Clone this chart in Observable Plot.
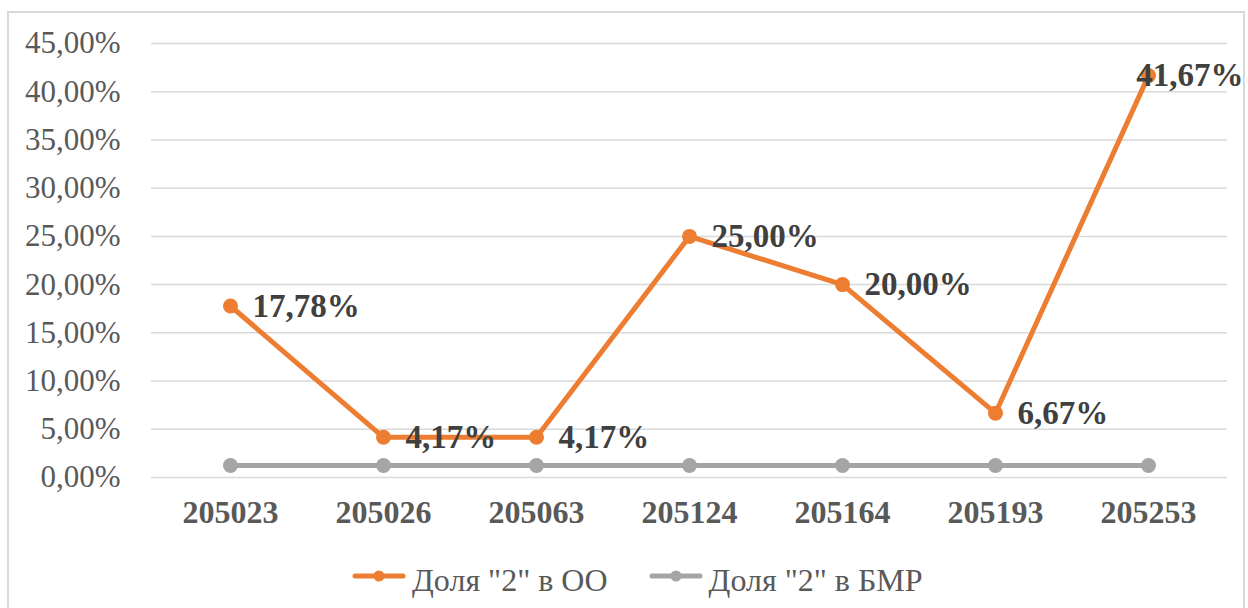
<!DOCTYPE html>
<html>
<head>
<meta charset="utf-8">
<script src="https://cdn.jsdelivr.net/npm/d3@7"></script>
<script src="https://cdn.jsdelivr.net/npm/@observablehq/plot@0.6"></script>
<style>
  html, body { margin: 0; padding: 0; background: #fff; width: 1248px; height: 608px; overflow: hidden; }
  body, body * { font-family: 'Liberation Serif', 'Times New Roman', Tinos, serif !important; }
  body { position: relative; }
  #frame { position: absolute; left: 7px; top: 11px; width: 1238px; height: 620px; border: 2px solid #d9d9d9; box-sizing: border-box; }
  #chart { position: absolute; left: 0; top: 0; }
  #legend { position: absolute; left: 352px; top: 560px; height: 40px; display: flex; align-items: center; font-size: 32px; color: #595959; white-space: nowrap; }
  .item { display: flex; align-items: center; }
  .item svg { margin-right: 6px; }
  #note { position: absolute; left: 0; top: 0; font-size: 1px; color: #fff; }
</style>
</head>
<body>
<div id="note">.</div>
<div id="frame"></div>
<div id="chart"></div>
<div id="legend"></div>
<script>
const categories = ["205023", "205026", "205063", "205124", "205164", "205193", "205253"];
const shareOO = [17.78, 4.17, 4.17, 25.00, 20.00, 6.67, 41.67];
const shareBMR = [1.24, 1.24, 1.24, 1.24, 1.24, 1.24, 1.24];
const yTicks = [0, 5, 10, 15, 20, 25, 30, 35, 40, 45];
const seriesNames = ["Доля \u00222\u0022 в ОО", "Доля \u00222\u0022 в БМР"];
const seriesColors = ["#ED7D31", "#A5A5A5"];
const serifStack = "'Liberation Serif', 'Times New Roman', Tinos, serif";

document.fonts.load("30px 'Liberation Serif'");
document.fonts.load("bold 30px 'Liberation Serif'");

const fmt = v => v.toFixed(2).replace(".", ",") + "%";
const oo = categories.map((c, i) => ({ cat: c, v: shareOO[i] }));
const bmr = categories.map((c, i) => ({ cat: c, v: shareBMR[i] }));
const ooMain = oo.slice(0, oo.length - 1);
const ooLast = oo.slice(oo.length - 1);

const chart = Plot.plot({
  width: 1248,
  height: 540,
  marginLeft: 151,
  marginRight: 21,
  marginTop: 43,
  marginBottom: 63,
  style: { fontFamily: serifStack, color: "#595959", background: "transparent", overflow: "visible" },
  x: { type: "point", domain: categories, padding: 0.5 },
  y: { domain: [0, 45] },
  marks: [
    Plot.gridY(yTicks, { stroke: "#d9d9d9", strokeOpacity: 1, strokeWidth: 1.5 }),
    Plot.axisY(yTicks, { tickSize: 0, tickPadding: 31, fontSize: 31, tickFormat: fmt, label: null }),
    Plot.axisX({ tickSize: 0, tickPadding: 23, fontSize: 32, fontWeight: "bold", label: null }),
    Plot.line(bmr, { x: "cat", y: "v", stroke: seriesColors[1], strokeWidth: 5 }),
    Plot.dot(bmr, { x: "cat", y: "v", r: 7.5, fill: seriesColors[1] }),
    Plot.line(oo, { x: "cat", y: "v", stroke: seriesColors[0], strokeWidth: 5 }),
    Plot.dot(oo, { x: "cat", y: "v", r: 7.5, fill: seriesColors[0] }),
    Plot.text(ooMain, { x: "cat", y: "v", text: d => fmt(d.v), textAnchor: "start", dx: 22, fontSize: 33, fontWeight: "bold", fill: "#404040" }),
    Plot.text(ooLast, { x: "cat", y: "v", text: d => fmt(d.v), textAnchor: "end", dx: 95, fontSize: 33, fontWeight: "bold", fill: "#404040" })
  ]
});
chart.setAttribute("font-family", serifStack);
document.getElementById("chart").appendChild(chart);

const legend = document.getElementById("legend");
seriesNames.forEach((name, i) => {
  const item = document.createElement("div");
  item.className = "item";
  if (i > 0) item.style.marginLeft = "41px";
  item.innerHTML = `<svg width="54" height="30"><line x1="3" y1="11" x2="51" y2="11" stroke="${seriesColors[i]}" stroke-width="5" stroke-linecap="round"/><circle cx="27" cy="11" r="5.5" fill="${seriesColors[i]}"/></svg><span>${name}</span>`;
  legend.appendChild(item);
});

const applyFont = () => {
  document.querySelectorAll("#chart text, #chart tspan, #legend span, #chart g").forEach(el => {
    el.style.setProperty("font-family", serifStack, "important");
  });
};
applyFont();
const sp = legend.querySelector("span");
const tx = chart.querySelector("text");
document.getElementById("note").textContent = getComputedStyle(sp).fontFamily + "|" + getComputedStyle(tx).fontFamily + "|" + document.fonts.check("30px 'Liberation Serif'");
document.fonts.ready.then(applyFont);
</script>
</body>
</html>
